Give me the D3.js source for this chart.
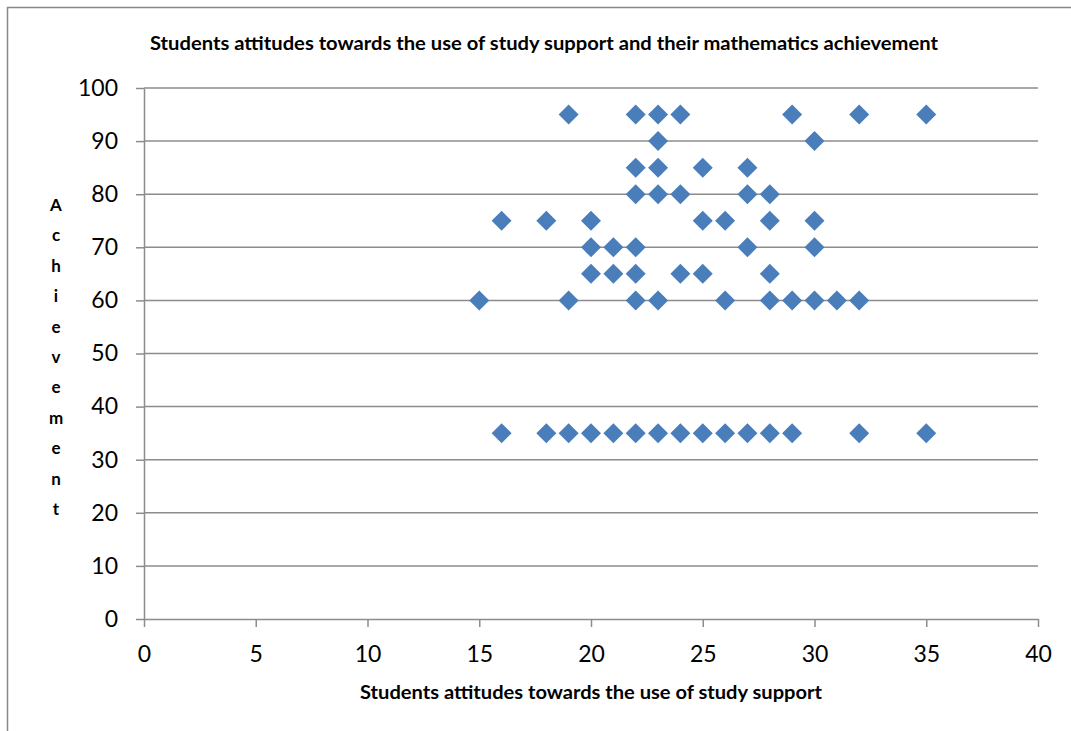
<!DOCTYPE html>
<html><head><meta charset="utf-8">
<script src="https://cdn.jsdelivr.net/npm/d3@7"></script>
<style>body{margin:0;background:#fff;}svg{display:block;}</style>
</head><body>
<svg id="chart" width="1071" height="731"></svg>
<script>
const titleText = "Students attitudes towards the use of study support and their mathematics achievement";
const xTitle = "Students attitudes towards the use of study support";
const yTitle = "Achievement";
const xTicks = [0,5,10,15,20,25,30,35,40];
const yTicks = [0,10,20,30,40,50,60,70,80,90,100];
const attitude = [
  19,22,23,24,29,32,35,
  23,30,
  22,23,25,27,
  22,23,24,27,28,
  16,18,20,25,26,28,30,
  20,21,22,27,30,
  20,21,22,24,25,28,
  15,19,22,23,26,28,29,30,31,32,
  16,18,19,20,21,22,23,24,25,26,27,28,29,32,35
];
const achievement = [
  95,95,95,95,95,95,95,
  90,90,
  85,85,85,85,
  80,80,80,80,80,
  75,75,75,75,75,75,75,
  70,70,70,70,70,
  65,65,65,65,65,65,
  60,60,60,60,60,60,60,60,60,60,
  35,35,35,35,35,35,35,35,35,35,35,35,35,35,35
];

const svg = d3.select("#chart");
const font = "Lato, 'Open Sans', sans-serif";
const L = 144, R = 1038, T = 88, B = 619;
const x = d3.scaleLinear().domain([0,40]).range([L,R]);
const y = d3.scaleLinear().domain([0,100]).range([B,T]);

// outer border
svg.append("path").attr("d","M7.5,731 L7.5,7.5 L1071,7.5").attr("fill","none").attr("stroke","#888").attr("stroke-width",1.5);

// gridlines
svg.append("g").selectAll("line").data(yTicks.filter(d=>d>0)).join("line")
  .attr("x1",L).attr("x2",R).attr("y1",d=>y(d)).attr("y2",d=>y(d))
  .attr("stroke","#8c8c8c").attr("stroke-width",1.5);

// axes
const yAxis = svg.append("g").attr("transform",`translate(${L},0)`)
  .call(d3.axisLeft(y).tickValues(yTicks).tickSize(8).tickPadding(18).tickSizeOuter(0));
const xAxis = svg.append("g").attr("transform",`translate(0,${B})`)
  .call(d3.axisBottom(x).tickValues(xTicks).tickSize(8).tickPadding(19).tickSizeOuter(0));
[yAxis,xAxis].forEach(g=>{
  g.select(".domain").attr("stroke","#8c8c8c").attr("stroke-width",1.5);
  g.selectAll(".tick line").attr("stroke","#8c8c8c").attr("stroke-width",1.5);
  g.selectAll(".tick text").attr("font-family",font).attr("font-size",23).attr("fill","#000");
});

// points
const diamond = d3.symbol().type(d3.symbolSquare).size(200);
svg.append("g").selectAll("path").data(attitude.map((a,i)=>[a,achievement[i]])).join("path")
  .attr("d",diamond)
  .attr("transform",d=>`translate(${x(d[0])},${y(d[1])}) rotate(45)`)
  .attr("fill","#4a7ebb");

// titles
svg.append("text").attr("x",544).attr("y",50).attr("text-anchor","middle")
  .attr("font-family",font).attr("font-weight","bold").attr("font-size",19.5)
  .attr("textLength",788).attr("lengthAdjust","spacingAndGlyphs").text(titleText);
svg.append("text").attr("x",591).attr("y",699).attr("text-anchor","middle")
  .attr("font-family",font).attr("font-weight","bold").attr("font-size",19.5)
  .attr("textLength",462).attr("lengthAdjust","spacingAndGlyphs").text(xTitle);
svg.append("g").selectAll("text").data(yTitle.split("")).join("text")
  .attr("x",56).attr("y",(d,i)=>211+i*30.4).attr("text-anchor","middle")
  .attr("font-family",font).attr("font-weight","bold").attr("font-size",17).text(d=>d);
</script>
</body></html>
